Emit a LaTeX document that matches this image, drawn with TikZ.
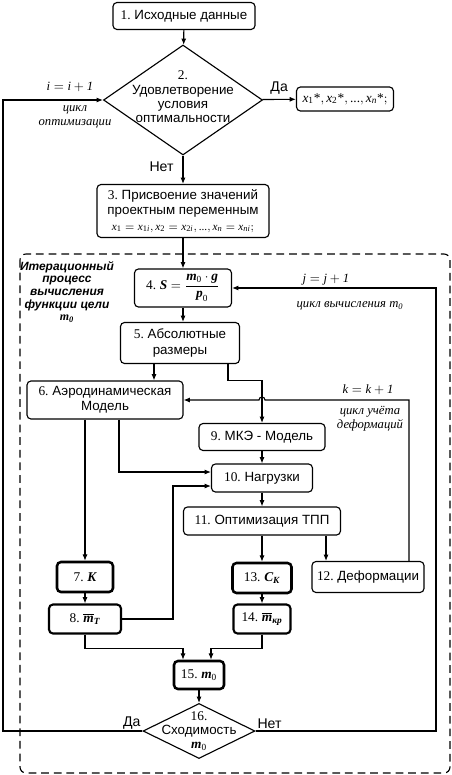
\documentclass[tikz,border=0pt]{standalone}
\usepackage{amsmath}
\usepackage{fontspec}
\setmainfont{Liberation Sans}
\newfontfamily\serifnum{Liberation Serif}
\usetikzlibrary{shapes.geometric, positioning, arrows.meta, calc}
\newlength{\px}
\setlength{\px}{0.025cm}
\newcommand{\bi}[1]{\text{\serifnum\bfseries\itshape #1}}
\newcommand{\ri}[1]{\text{\serifnum\itshape #1}}
\newcommand{\nr}[1]{\text{\serifnum #1}}

\begin{document}
\begin{tikzpicture}[
        x=\px, y=-\px,
        box/.style={draw, rectangle, rounded corners=4\px, align=center, inner sep=1pt, line width=0.8pt, font=\fontsize{9.5}{10.8}\selectfont},
        boldbox/.style={box, line width=1.8pt},
        decision/.style={draw, diamond, inner sep=0pt, line width=0.8pt},
        dectext/.style={align=center, font=\fontsize{9.5}{10.2}\selectfont},
        arr/.style={-{Latex[length=4.5pt, width=3.6pt]}, line width=0.8pt},
        lbl/.style={font=\serifnum\itshape\fontsize{9}{10}\selectfont, align=center, inner sep=0pt},
        frame/.style={dash pattern=on 5.5pt off 3.5pt, rounded corners=6\px, line width=0.8pt}
    ]
    \useasboundingbox (0,0) rectangle (452,775);

    % Start and optimality check
    \node[box, minimum width=142\px, minimum height=27\px] (b1) at (184,16) {\nr{1.}~Исходные данные};
    \node[decision, minimum width=159\px, minimum height=110\px,
          label={[dectext, yshift=3\px]center:{\nr{2.}\\Удовлетворение\\условия\\оптимальности}}] (d2) at (183,100) {};
    \node[box, minimum width=97\px, minimum height=24\px] (res) at (345,99)
        {$\ri{x}_{\nr{1}}\nr{*}, \ri{x}_{\nr{2}}\nr{*}, \nr{...}, \ri{x}_{\ri{n}}\nr{*};$};
    \node[box, minimum width=172\px, minimum height=53\px] (b3) at (183,211)
        {\nr{3.}~Присвоение значений\\проектным переменным\\
         {\fontsize{8}{9}\selectfont $\ri{x}_{\nr{1}}=\ri{x}_{\nr{1}\ri{i}}, \ri{x}_{\nr{2}}=\ri{x}_{\nr{2}\ri{i}}, \nr{...}, \ri{x}_{\ri{n}}=\ri{x}_{\ri{ni}};$}};

    \draw[arr] (b1) -- (d2);
    \draw[arr] (d2) -- node[above]{Да} (res);
    \draw[arr] (d2) -- node[left=3pt, pos=0.4]{Нет} (b3);

    % Iteration block
    \draw[frame] (20,254) rectangle (450,773);
    \node[lbl, font=\bfseries\itshape\fontsize{8.5}{9}\selectfont] (liter) at (67,292)
        {Итерационный\\процесс\\вычисления\\функции цели\\$\bi{m}_{\nr{0}}$};

    \node[box, minimum width=97\px, minimum height=38\px] (b4) at (183,288)
        {\nr{4.}~$\bi{S}=\dfrac{\bi{m}_{\nr{0}}\cdot\bi{g}}{\bi{p}_{\nr{0}}}$};
    \node[box, minimum width=119\px, minimum height=41\px] (b5) at (180,343) {\nr{5.}~Абсолютные\\размеры};
    \node[box, minimum width=156\px, minimum height=38\px] (b6) at (105,400) {\nr{6.}~Аэродинамическая\\Модель};
    \node[box, minimum width=126\px, minimum height=27\px] (b9) at (262,437) {\nr{9.}~МКЭ - Модель};
    \node[box, minimum width=101\px, minimum height=28\px] (b10) at (262,478) {\nr{10.}~Нагрузки};
    \node[box, minimum width=157\px, minimum height=28\px] (b11) at (262,521) {\nr{11.}~Оптимизация ТПП};
    \node[box, minimum width=112\px, minimum height=31\px] (b12) at (368,577) {\nr{12.}~Деформации};
    \node[boldbox, minimum width=56\px, minimum height=30\px] (b7) at (85,577) {\nr{7.}~$\bi{K}$};
    \node[boldbox, minimum width=59\px, minimum height=30\px] (b13) at (262,578) {\nr{13.}~$\bi{C}_{\bi{K}}$};
    \node[boldbox, line width=1.5pt, minimum width=72\px, minimum height=29\px] (b8) at (85,619) {\nr{8.}\ $\overline{\bi{m}}_{\bi{T}}$};
    \node[boldbox, line width=1.5pt, minimum width=57\px, minimum height=29\px] (b14) at (262,619) {\nr{14.}\ $\overline{\bi{m}}_{\bi{кр}}$};
    \node[boldbox, minimum width=50\px, minimum height=28\px] (b15) at (199,675) {\nr{15.}~$\bi{m}_{\nr{0}}$};
    \node[decision, minimum width=112\px, minimum height=55\px,
          label={[dectext]center:{\nr{16.}\\Сходимость\\$\bi{m}_{\nr{0}}$}}] (d16) at (199,731) {};

    \draw[arr] (b3) -- (b4);
    \draw[arr] (b4.south) -- (b4.south |- b5.north);
    \draw[arr] ([xshift=-26\px]b5.south) -- ([xshift=-26\px]b5.south |- b6.north);
    \draw[arr] ([xshift=48\px]b5.south) -- ++(0,16) -| (b9.north);
    \draw[arr] (b9) -- (b10);
    \draw[arr] ([xshift=14\px]b6.south) |- ([yshift=6\px]b10.west);
    \draw[arr] ([xshift=-20\px]b6.south) -- (b7.north);
    \draw[arr] (b8.east) -- ++(51,0) |- ([yshift=-8\px]b10.west);
    \draw[arr] (b10) -- (b11);
    \draw[arr] (b11) -- (b13);
    \draw[arr] ([xshift=64\px]b11.south) -- ([xshift=64\px]b11.south |- b12.north);
    \draw[arr] (b7) -- (b8);
    \draw[arr] (b13) -- (b14);
    \draw[arr] (b8.south) -- ++(0,14) -| ([xshift=-16\px]b15.north);
    \draw[arr] (b14.south) -- ++(0,14) -| ([xshift=12\px]b15.north);
    \draw[arr] (b15) -- (d16);

    % Deformation loop
    \draw[arr] ([xshift=41\px]b12.north) |- ($(b9.north |- b6.east)+(3,0)$)
        arc[start angle=0, end angle=180, radius=3\px] -- (b6.east);
    \node[lbl] (lk) at (368,390) {$\ri{k}=\ri{k}+\nr{1}$};
    \node[lbl] (ldef) at (370,419) {цикл учёта\\деформаций};

    % Mass loop
    \coordinate (jloop) at (436,731);
    \draw[arr] (d16.east) -- node[above right, pos=0, inner sep=1pt]{Нет} (jloop) |- (b4.east);
    \node[lbl] (lj) at (326,280) {$\ri{j}=\ri{j}+\nr{1}$};
    \node[lbl] (lmc) at (350,306) {цикл вычисления $\ri{m}_{\nr{0}}$};

    % Optimization loop
    \coordinate (iloop) at (3,731);
    \draw[arr] (d16.west) -- node[above left, pos=0, inner sep=1pt]{Да} (iloop) |- (d2.west);
    \node[lbl] (li) at (70,87) {$\ri{i}=\ri{i}+\nr{1}$};
    \node[lbl] (lopt) at (75,117) {цикл\\оптимизации};

\end{tikzpicture}
\end{document}
